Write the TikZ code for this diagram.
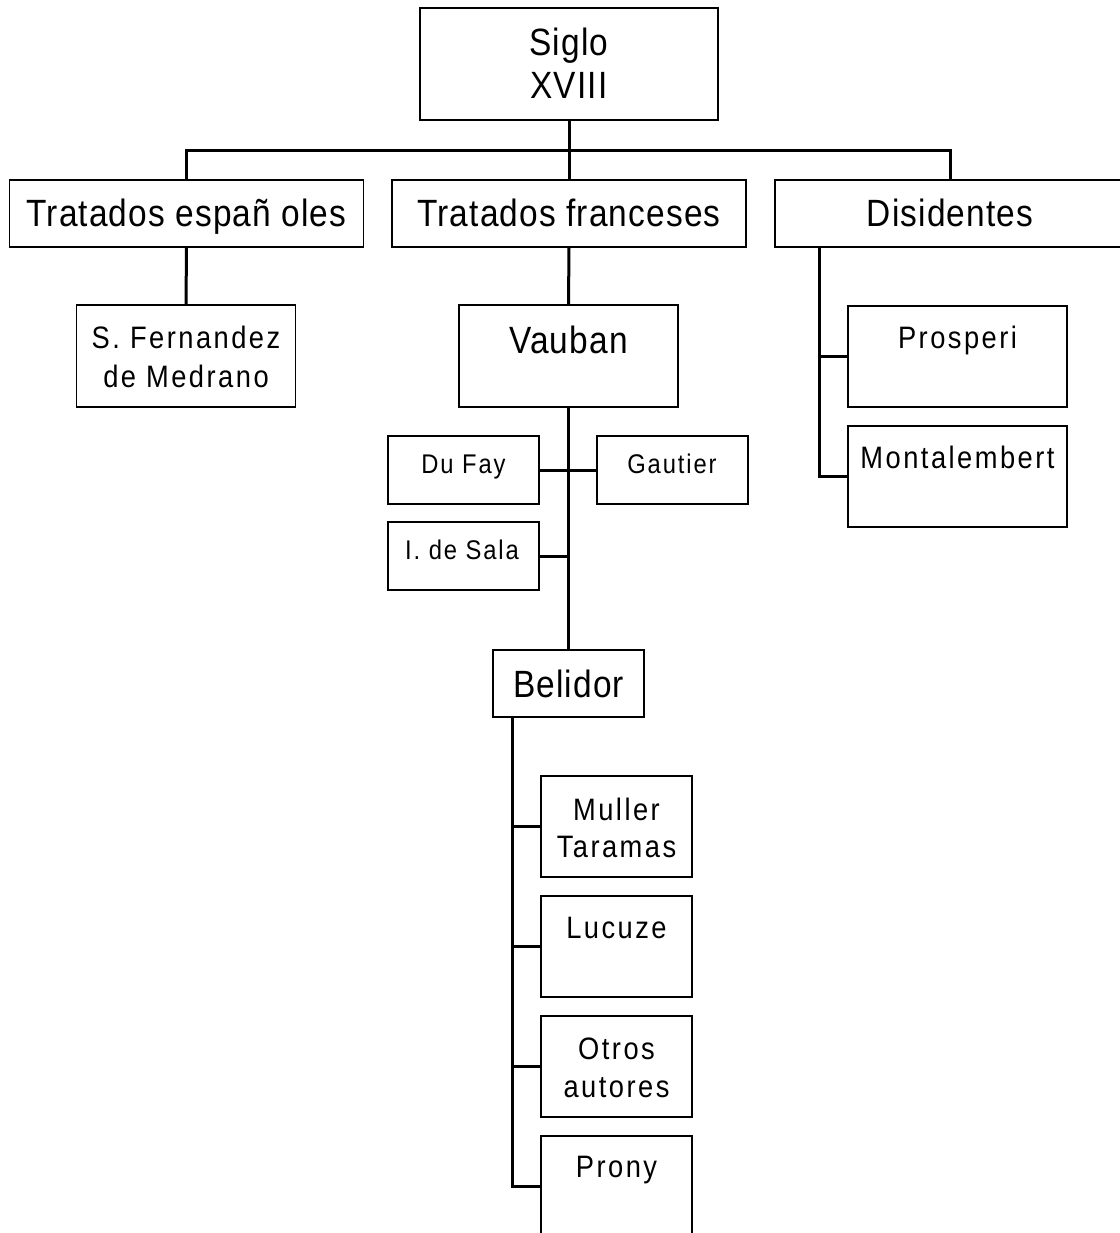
\documentclass[tikz,border=0pt]{standalone}
\usepackage{fontspec}
\setmainfont{Liberation Sans}
\newfontfamily\bigfont[FakeStretch=0.88,LetterSpace=3]{Liberation Sans}
\newfontfamily\midfont[FakeStretch=0.88,LetterSpace=8]{Liberation Sans}
\newfontfamily\smallfont[FakeStretch=0.88,LetterSpace=7]{Liberation Sans}
\begin{document}
\begin{tikzpicture}[x=0.5pt,y=-0.5pt,
  box/.style={draw,line width=0.75pt,inner sep=0pt,fill=none},
  bigbox/.style={box,minimum width=177pt,minimum height=33.5pt},
  midbox/.style={box,minimum width=109.5pt,minimum height=51pt},
  smallbox/.style={box,minimum width=75.5pt,minimum height=34pt},
  tallbox/.style={box,minimum width=75.5pt,minimum height=50.5pt},
  txt/.style={anchor=base,inner sep=0pt},
  bigt/.style={txt,font=\bigfont\fontsize{19}{21.5}\selectfont},
  midt/.style={txt,font=\midfont\fontsize{15.5}{19}\selectfont},
  smallt/.style={txt,font=\smallfont\fontsize{13.5}{16}\selectfont},
  conn/.style={line width=1.5pt}]
\clip (0,0) rectangle (1120,1233);
\fill[white] (0,0) rectangle (1120,1233);

% boxes
\node[box,minimum width=149pt,minimum height=56pt] (siglo) at (569,64) {};
\node[bigbox] (tesp) at (186.5,213.5) {};
\node[bigbox] (tfra) at (569,213.5) {};
\node[bigbox,minimum width=175pt] (disi) at (950,213.5) {};
\node[midbox] (fern) at (186,356) {};
\node[midbox] (vauban) at (568.5,356) {};
\node[smallbox] (dufay) at (463.5,470) {};
\node[smallbox] (gautier) at (672.5,470) {};
\node[smallbox] (sala) at (463.5,556) {};
\node[smallbox,minimum height=33.5pt] (belidor) at (568.5,683.5) {};
\node[tallbox] (muller) at (616.5,826.5) {};
\node[tallbox] (lucuze) at (616.5,946.5) {};
\node[tallbox] (otros) at (616.5,1066.5) {};
\node[tallbox] (prony) at (616.5,1186.5) {};
\node[midbox,minimum height=50.5pt] (prosperi) at (957.5,356.5) {};
\node[midbox,minimum height=50.5pt] (montal) at (957.5,476.5) {};

% texts
\node[bigt] (t-siglo1) at (569,55) {Siglo};
\node[bigt] (t-siglo2) at (569,98) {XVIII};
\node[bigt] (t-tesp) at (186.5,226) {Tratados españ oles};
\node[bigt] (t-tfra) at (569,226) {Tratados franceses};
\node[bigt] (t-disi) at (950,226) {Disidentes};
\node[midt] (t-fern1) at (186,348) {S. Fernandez};
\node[midt] (t-fern2) at (186,387) {de Medrano};
\node[bigt] (t-vauban) at (568.5,353) {Vauban};
\node[smallt] (t-dufay) at (463.5,473) {Du Fay};
\node[smallt] (t-gautier) at (672,473) {Gautier};
\node[smallt] (t-sala) at (462,559) {I. de Sala};
\node[bigt] (t-belidor) at (568.5,697) {Belidor};
\node[midt] (t-muller1) at (616.5,820) {Muller};
\node[midt] (t-muller2) at (616.5,857) {Taramas};
\node[midt] (t-lucuze) at (616.5,938) {Lucuze};
\node[midt] (t-otros1) at (616.5,1059) {Otros};
\node[midt] (t-otros2) at (616.5,1097) {autores};
\node[midt] (t-prony) at (616.5,1177) {Prony};
\node[midt] (t-prosperi) at (957.5,348) {Prosperi};
\node[midt] (t-montal) at (957.5,468) {Montalembert};

% connectors
\coordinate (bus) at (569,150);
\draw[conn] (siglo.south) -- (tfra.north);
\draw[conn] (tesp.north) |- (bus) -| (disi.north);
\draw[conn] (tesp.south) -- (fern.north);
\draw[conn] (tfra.south) -- (vauban.north);
\draw[conn] (vauban.south) -- (belidor.north);
\draw[conn] (dufay.east) -- (gautier.west);
\draw[conn] (sala.east) -- (sala.east -| vauban.south);
\coordinate (bl) at ([xshift=10pt]belidor.south west);
\draw[conn] (bl) |- (prony.west);
\draw[conn] (muller.west) -- (muller.west -| bl);
\draw[conn] (lucuze.west) -- (lucuze.west -| bl);
\draw[conn] (otros.west) -- (otros.west -| bl);
\coordinate (dl) at ([xshift=22.5pt]disi.south west);
\draw[conn] (dl) |- (montal.west);
\draw[conn] (prosperi.west) -- (prosperi.west -| dl);
\end{tikzpicture}
\end{document}
